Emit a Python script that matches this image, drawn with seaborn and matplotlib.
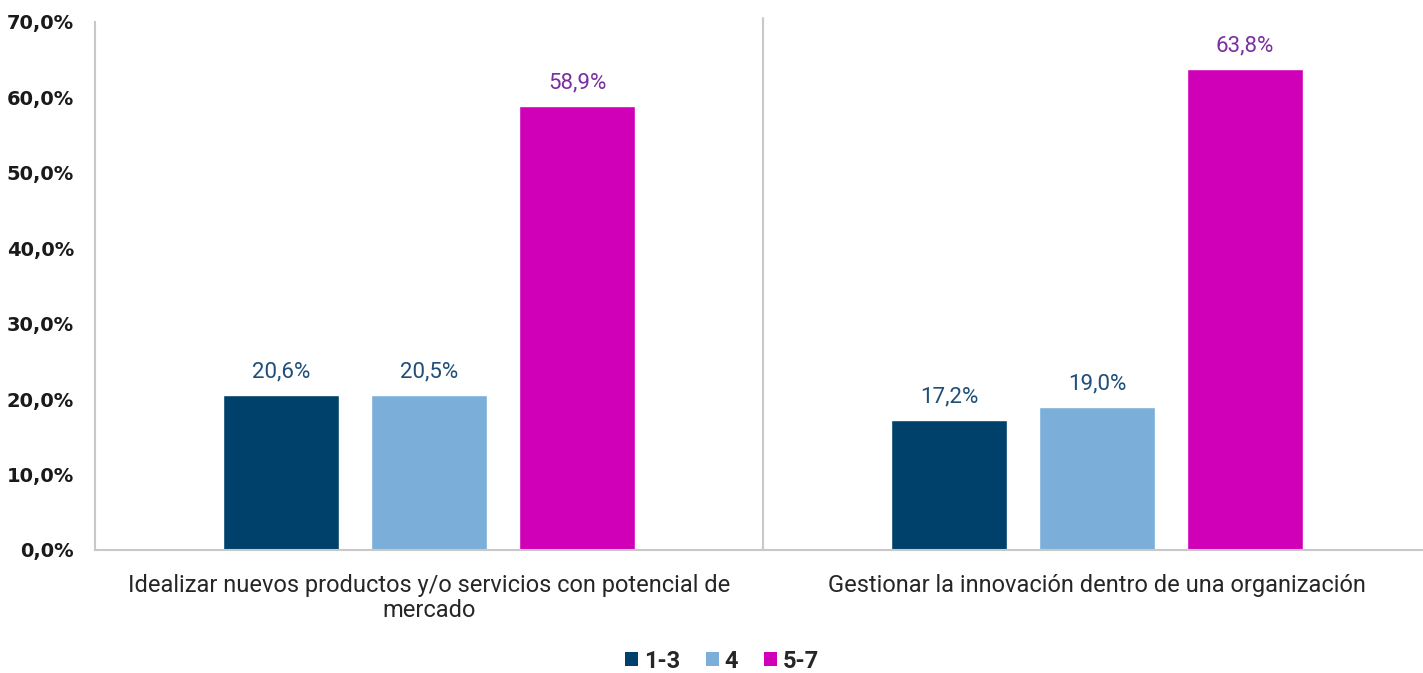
import matplotlib
matplotlib.use("Agg")
import matplotlib.pyplot as plt
from matplotlib.patches import Patch
import seaborn as sns
import pandas as pd

categories = [
    "Idealizar nuevos productos y/o servicios con potencial de\nmercado",
    "Gestionar la innovación dentro de una organización",
]
groups = ["1-3", "4", "5-7"]
vals_13 = [20.6, 17.2]
vals_4 = [20.5, 19.0]
vals_57 = [58.9, 63.8]
y_ticks = [0, 10, 20, 30, 40, 50, 60, 70]

palette = {"1-3": "#00416B", "4": "#7BAFDA", "5-7": "#D000B8"}
label_colors = {"1-3": "#1F4E79", "4": "#1F4E79", "5-7": "#7A2FA0"}

df = pd.DataFrame({
    "categoria": categories * 3,
    "grupo": [g for g in groups for _ in categories],
    "valor": vals_13 + vals_4 + vals_57,
})

sns.set_theme(style="white")
plt.rcParams["font.family"] = ["Roboto", "DejaVu Sans"]

W, H = 1423, 673
fig = plt.figure(figsize=(W / 100, H / 100), dpi=100)
ax = fig.add_axes([95 / W, (H - 550) / H, (W - 95) / W, 528 / H])

sns.barplot(data=df, x="categoria", y="valor", hue="grupo", order=categories,
            hue_order=groups, palette=palette, width=0.665, gap=0.215,
            saturation=1, legend=False, ax=ax)

ax.set_xlim(-0.5, -0.5 + (W - 95) / 668)
ax.set_ylim(0, 70)
ax.set_yticks(y_ticks)
ax.set_yticklabels([f"{v:.1f}%".replace(".", ",") for v in y_ticks],
                   fontsize=14, fontweight="bold", family="DejaVu Sans",
                   color="#1a1a1a")
ax.tick_params(axis="y", length=0, pad=15)
ax.tick_params(axis="x", length=0, pad=17, labelsize=17, labelcolor="#262626")
for lbl in ax.get_xticklabels():
    lbl.set_linespacing(1.15)
ax.set_xlabel("")
ax.set_ylabel("")

for side in ["top", "right"]:
    ax.spines[side].set_visible(False)
for side in ["left", "bottom"]:
    ax.spines[side].set_color("#C8C8C8")
    ax.spines[side].set_linewidth(1.5)

# divider between the two categories
ax.axvline(0.5, ymin=0, ymax=1.008, color="#C8C8C8", lw=1.5, clip_on=False)

# value labels above each bar
for container, g in zip(ax.containers, groups):
    labels = [f"{b.get_height():.1f}%".replace(".", ",") for b in container]
    ax.bar_label(container, labels=labels, padding=9, fontsize=16,
                 color=label_colors[g])

handles = [Patch(facecolor=palette[g], edgecolor="none") for g in groups]
fig.legend(handles, groups, loc="center", bbox_to_anchor=(722 / W, 1 - 661 / H),
           ncol=3, frameon=False, handlelength=0.55, handleheight=0.55,
           handletextpad=0.25, columnspacing=1.1,
           prop={"family": "Roboto", "weight": "bold", "size": 17})

fig.savefig("out.png", dpi=100)
